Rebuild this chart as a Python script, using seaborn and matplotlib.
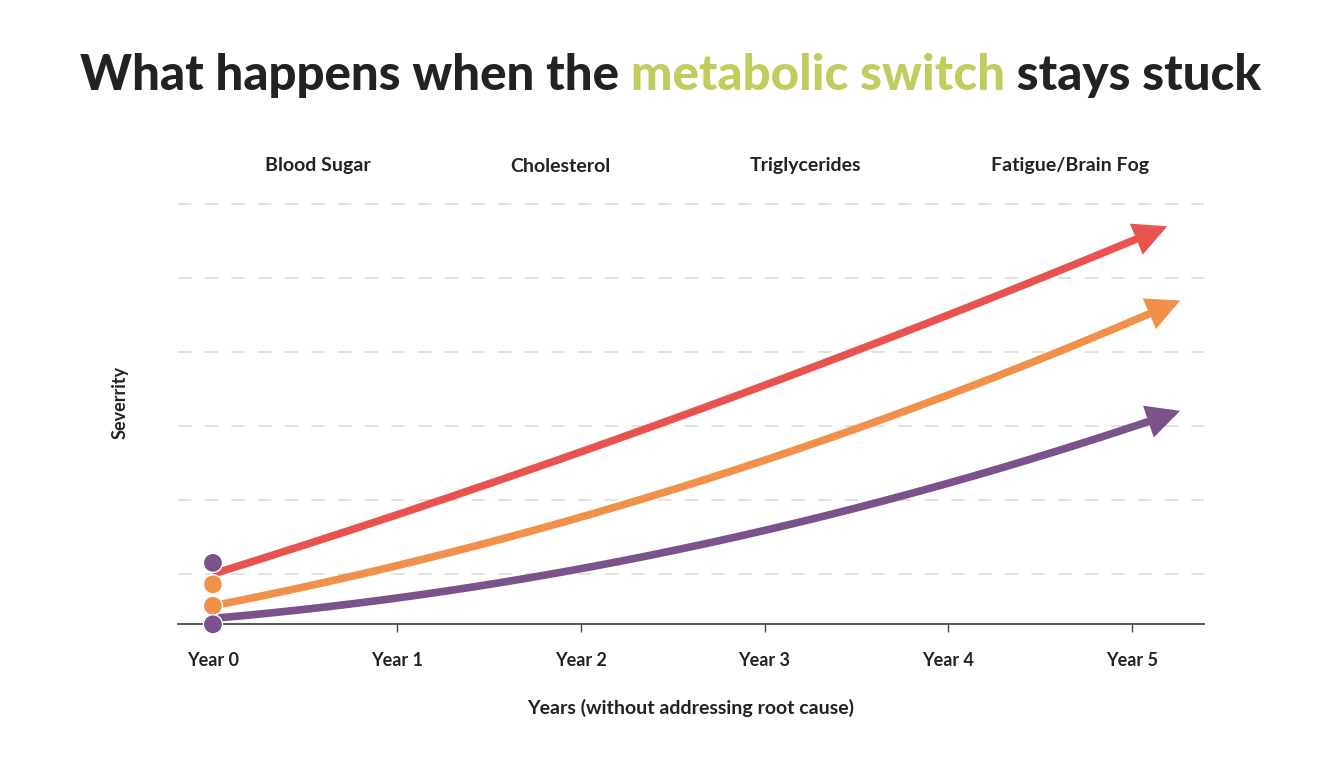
import matplotlib
matplotlib.use("Agg")
import matplotlib.pyplot as plt
import seaborn as sns
import numpy as np

sns.set_theme(style="white")
plt.rcParams['font.family'] = ['Lato', 'DejaVu Sans']

years = [0, 1, 2, 3, 4, 5.19]
tick_labels = ["Year 0", "Year 1", "Year 2", "Year 3", "Year 4", "Year 5"]
red_vals = [0.0, 0.8, 1.65, 2.55, 3.5, 4.7]
orange_x = [0, 1, 2, 3, 4, 5.26]
orange_vals = [-0.43, 0.12, 0.77, 1.54, 2.42, 3.7]
purple_x = [0, 1, 2, 3, 4, 5.26]
purple_vals = [-0.6, -0.32, 0.05, 0.6, 1.23, 2.2]
dot_vals = [0.15, -0.14, -0.43, -0.68]
dot_colors = ["#7B528B", "#F0904A", "#F0904A", "#7B528B"]
headers = ["Blood Sugar", "Cholesterol", "Triglycerides", "Fatigue/Brain Fog"]
header_x = [0.57, 1.89, 3.22, 4.66]

RED, ORANGE, PURPLE = "#E8524F", "#F0904A", "#7B528B"

fig = plt.figure(figsize=(13.44, 7.68), dpi=100)
top_px = 574 - 5.32 * 74
ax = fig.add_axes([178/1344, 1-624/768, (1204-178)/1344, (624-top_px)/768])

for xs, ys, c in [(years, red_vals, RED), (orange_x, orange_vals, ORANGE), (purple_x, purple_vals, PURPLE)]:
    xs = np.array(xs); ys = np.array(ys)
    coef = np.polyfit(xs, ys, 2)
    xx = np.linspace(0, xs[-1], 200)
    yy = np.polyval(coef, xx)
    yy = yy - yy[0] + ys[0]
    cut = 192
    sns.lineplot(x=xx[:cut+1], y=yy[:cut+1], color=c, linewidth=5.5, ax=ax, solid_capstyle='butt')
    ax.annotate("", xy=(xx[-1], yy[-1]), xytext=(xx[cut], yy[cut]),
                arrowprops=dict(arrowstyle="-|>", mutation_scale=38, color=c, lw=5.5,
                                shrinkA=0, shrinkB=0, joinstyle='miter'))

ax.scatter([0]*len(dot_vals), dot_vals, s=190, c=dot_colors, zorder=5, edgecolors="white", linewidths=1, clip_on=False)

ax.set_xlim(-0.19, 5.39)
ax.set_ylim(-0.676, 5.32)
ax.set_yticks([0, 1, 2, 3, 4, 5])
ax.set_yticklabels([])
ax.tick_params(axis='y', length=0)
for g in [0, 1, 2, 3, 4, 5]:
    ax.axhline(g, color="#dddddd", lw=1.2, dashes=(8, 8), zorder=0)
ax.set_xticks(range(6))
ax.set_xticklabels(tick_labels, fontsize=13, fontweight='bold', color="#222222")
ax.tick_params(axis='x', length=6, width=1, color="#444444", direction='out', pad=14, bottom=True)
for s in ["top", "right", "left"]:
    ax.spines[s].set_visible(False)
ax.spines["bottom"].set_color("#444444")
ax.set_xlabel("Years (without addressing root cause)", fontsize=14, fontweight='bold', color="#222222", labelpad=22)
ax.set_ylabel("Severrity", fontsize=13, fontweight='bold', color="#222222", labelpad=32)

for h, hx in zip(headers, header_x):
    fig.text((178 + (hx + 0.19) / 5.58 * 1026) / 1344, 1 - 166/768, h, ha='center', va='center',
             fontsize=14, fontweight='bold', color="#222222")

fs = 35.5
t1 = fig.text(80/1344, 1 - 75/768, "What happens when the ", fontsize=fs, fontweight='black', color="#222222", va='center', ha='left')
fig.canvas.draw()
bb = t1.get_window_extent()
t2 = fig.text(bb.x1/1344, 1 - 75/768, "metabolic switch", fontsize=fs, fontweight='black', color="#C2CC5E", va='center', ha='left')
fig.canvas.draw()
bb2 = t2.get_window_extent()
fig.text(bb2.x1/1344, 1 - 75/768, " stays stuck", fontsize=fs, fontweight='black', color="#222222", va='center', ha='left')

fig.savefig("out.png", dpi=100, facecolor="white")
